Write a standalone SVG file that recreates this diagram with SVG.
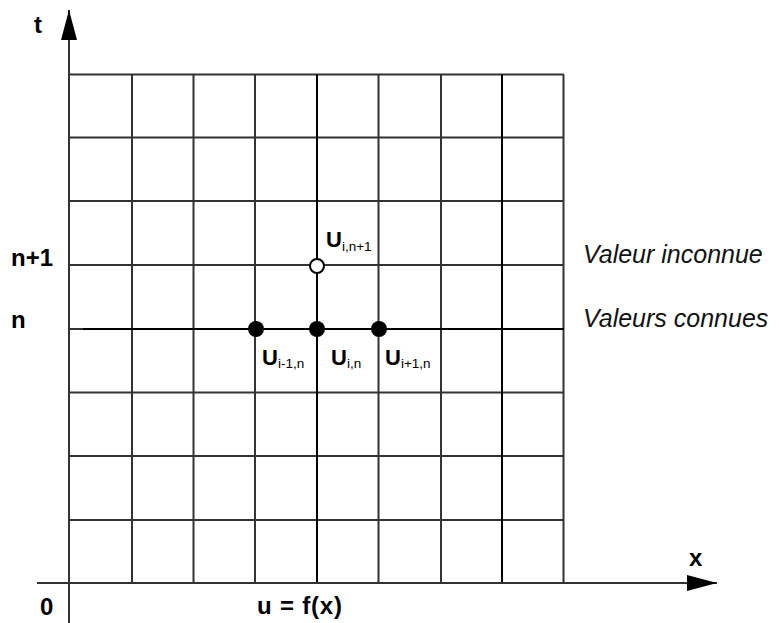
<svg xmlns="http://www.w3.org/2000/svg" width="779" height="623" viewBox="0 0 779 623">
<style>
.grid line{stroke:#333;stroke-width:2}
.dark{stroke:#000!important}
.axis{stroke:#333;stroke-width:2;fill:none}
.lbl{font-family:"Liberation Sans",Arial,sans-serif;font-weight:bold;font-size:24px;fill:#000}
.ital{font-family:"Liberation Sans",Arial,sans-serif;font-style:italic;font-size:25px;fill:#111}
.u{font-family:"Liberation Sans",Arial,sans-serif;font-weight:bold;font-size:22px;fill:#000}
.sub{font-weight:normal;font-size:13.5px}
</style>
<defs>
<marker id="ah" markerWidth="30" markerHeight="16" refX="30" refY="8" orient="auto" markerUnits="userSpaceOnUse">
<path d="M0,0 L30,8 L0,16 z" fill="#000"/>
</marker>
</defs>
<rect width="779" height="623" fill="#fff"/>
<g id="grid" class="grid">
<line x1="69" y1="74.5" x2="564" y2="74.5"/>
<line x1="69" y1="137.5" x2="564" y2="137.5"/>
<line x1="69" y1="201" x2="564" y2="201"/>
<line x1="69" y1="265" x2="564" y2="265"/>
<line x1="69" y1="329" x2="564" y2="329"/>
<line x1="69" y1="392.5" x2="564" y2="392.5"/>
<line x1="69" y1="456" x2="564" y2="456"/>
<line x1="69" y1="520" x2="564" y2="520"/>
<line x1="132" y1="74.5" x2="132" y2="583"/>
<line x1="193.5" y1="74.5" x2="193.5" y2="583"/>
<line x1="255" y1="74.5" x2="255" y2="583"/>
<line x1="317" y1="74.5" x2="317" y2="583" class="dark"/>
<line x1="378.5" y1="74.5" x2="378.5" y2="583"/>
<line x1="441" y1="74.5" x2="441" y2="583"/>
<line x1="502" y1="74.5" x2="502" y2="583" class="dark"/>
<line x1="563.5" y1="74.5" x2="563.5" y2="583"/>
<line x1="83" y1="329" x2="564" y2="329" class="dark"/>
</g>
<g id="axes">
<line class="axis" x1="69" y1="623" x2="69" y2="10" marker-end="url(#ah)"/>
<line class="axis" x1="37" y1="583" x2="717" y2="583" marker-end="url(#ah)"/>
</g>
<g id="node-unknown">
<circle cx="317" cy="266" r="7" fill="#fff" stroke="#000" stroke-width="2"/>
<text class="u" x="326" y="247">U<tspan class="sub" dy="4">i,n+1</tspan></text>
</g>
<g id="node-im1">
<circle cx="256" cy="329" r="8" fill="#000"/>
<text class="u" x="262" y="365">U<tspan class="sub" dy="3">i-1,n</tspan></text>
</g>
<g id="node-i">
<circle cx="317" cy="329" r="8" fill="#000"/>
<text class="u" x="331" y="365">U<tspan class="sub" dy="3">i,n</tspan></text>
</g>
<g id="node-ip1">
<circle cx="379" cy="329" r="8" fill="#000"/>
<text class="u" x="385" y="365">U<tspan class="sub" dy="3">i+1,n</tspan></text>
</g>
<g id="labels">
<text class="lbl" x="34" y="33">t</text>
<text class="lbl" x="11" y="266">n+1</text>
<text class="lbl" x="11" y="328">n</text>
<text class="lbl" x="40" y="615">0</text>
<text class="lbl" x="257" y="614" textLength="85">u = f(x)</text>
<text class="lbl" x="689" y="566">x</text>
<text class="ital" x="583" y="263">Valeur inconnue</text>
<text class="ital" x="583" y="327">Valeurs connues</text>
</g>
</svg>
